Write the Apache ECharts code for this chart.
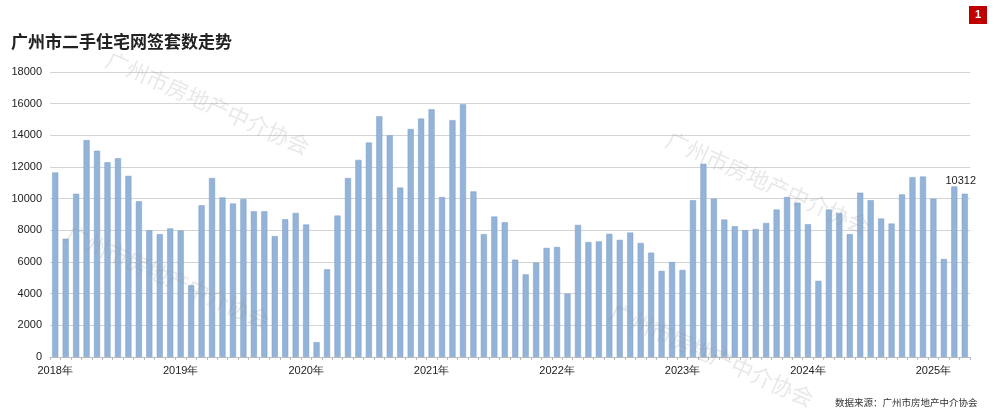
<!DOCTYPE html>
<html><head><meta charset="utf-8">
<script src="https://cdn.jsdelivr.net/npm/echarts@6/dist/echarts.min.js"></script>
<style>html,body{margin:0;padding:0;background:#fff}#c{width:1000px;height:413px}</style>
</head><body><div id="c"></div>
<script>
const years = [2018,2019,2020,2021,2022,2023,2024,2025];
const v2018 = [11650,7470,10310,13700,13030,12300,12550,11440,9830,8010,7760,8120];
const v2019 = [7990,4540,9580,11300,10080,9690,9980,9200,9200,7640,8700,9100];
const v2020 = [8370,940,5540,8930,11300,12450,13540,15200,14000,10700,14400,15060];
const v2021 = [15650,10100,14960,15960,10460,7760,8870,8510,6150,5220,5960,6890];
const v2022 = [6950,4000,8340,7260,7300,7780,7400,7860,7200,6590,5440,6000];
const v2023 = [5500,9900,12200,10000,8680,8260,8010,8080,8470,9310,10100,9750];
const v2024 = [8390,4810,9310,9100,7760,10380,9900,8740,8430,10270,11360,11400];
const v2025 = [10000,6190,10770,10312];
const yTicks = [0,2000,4000,6000,8000,10000,12000,14000,16000,18000];
const all = [v2018,v2019,v2020,v2021,v2022,v2023,v2024,v2025];
const categories = [], values = [];
all.forEach((arr,i)=>arr.forEach((v,m)=>{categories.push(years[i]+'-'+(m+1));values.push(v);}));
const lastIdx = values.length-1;
const wmStyle = {text:'广州市房地产中介协会',fill:'rgba(150,150,150,0.22)',fontSize:22,fontFamily:'Noto Sans CJK SC'};
const wm = (x,y)=>({type:'text',x:x,y:y,rotation:-0.42,z:100,silent:true,style:Object.assign({x:0,y:0},wmStyle)});
const chart = echarts.init(document.getElementById('c'));
chart.setOption({
  animation:false,
  title:{text:'广州市二手住宅网签套数走势',left:6,top:28,textStyle:{fontSize:17,fontWeight:'bold',color:'#222',fontFamily:'Noto Sans CJK SC'}},
  graphic:[
    {type:'rect',shape:{x:969,y:6,width:18,height:18},style:{fill:'#c00000'}},
    {type:'text',style:{x:978,y:15,text:'1',fill:'#fff',fontSize:11,fontWeight:'bold',align:'center',verticalAlign:'middle'}},
    {type:'text',style:{x:835,y:398,text:'数据来源：广州市房地产中介协会',fill:'#333',fontSize:9.5,fontFamily:'Noto Sans CJK SC'}},
    wm(112,48), wm(672,128), wm(72,222), wm(616,300)
  ],
  grid:{left:50,right:30,top:72,bottom:56},
  xAxis:{type:'category',data:categories,boundaryGap:true,
    axisLine:{lineStyle:{color:'#bbb'}},
    axisTick:{show:true,interval:0,length:3,lineStyle:{color:'#bbb'}},
    axisLabel:{interval:0,color:'#222',fontSize:11,margin:8,
      formatter:(v)=>{const p=v.split('-');return p[1]==='1'?p[0]+'年':'';}}},
  yAxis:{type:'value',min:yTicks[0],max:yTicks[yTicks.length-1],interval:2000,
    axisLabel:{color:'#222',fontSize:11,formatter:(v)=>String(v)},
    splitLine:{lineStyle:{color:'#d4d4d4'}},axisLine:{show:false},axisTick:{show:false}},
  series:[{type:'bar',data:values.map((v,i)=>i===lastIdx?{value:v,label:{show:true,position:'top',offset:[-4,-2],color:'#222',fontSize:11}}:v),
    barCategoryGap:'42%',
    itemStyle:{color:'#93b3d8',borderColor:'#7d9fc9',borderWidth:0.5}}]
});
</script></body></html>
